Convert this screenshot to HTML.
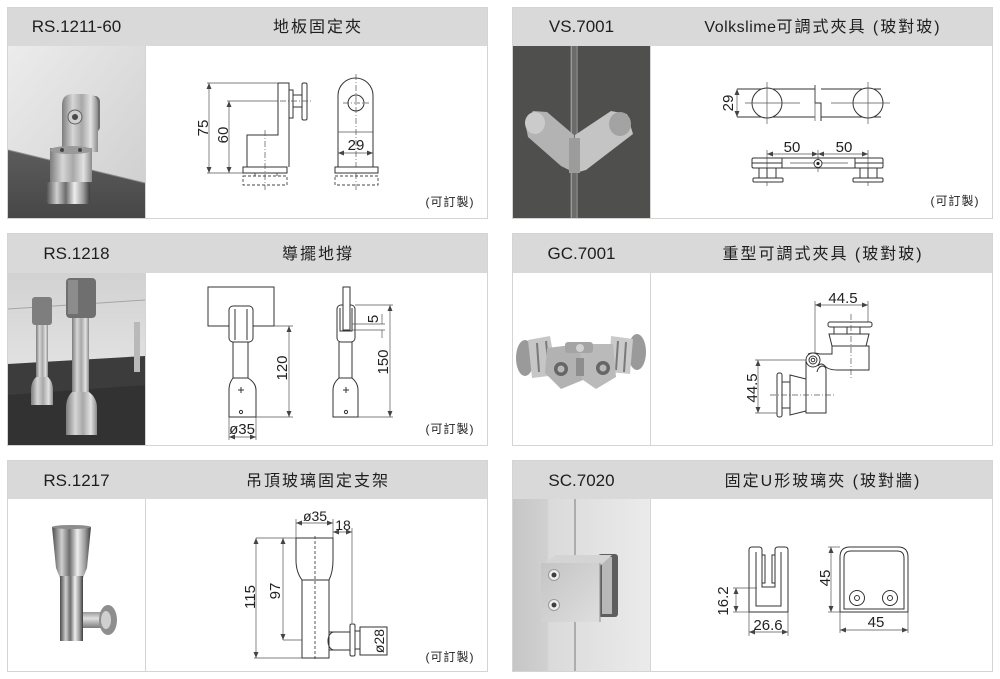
<!DOCTYPE html>
<html><head><meta charset="utf-8"><style>
html,body{margin:0;padding:0;background:#fff;}
svg{display:block}
.h{font-family:"Liberation Sans","Noto Sans CJK TC",sans-serif;font-size:17px;fill:#1e1e1e}
.t{font-family:"Liberation Sans","Noto Sans CJK TC",sans-serif;font-size:16px;fill:#1e1e1e;letter-spacing:2px}
.c{font-family:"Liberation Sans","Noto Sans CJK TC",sans-serif;font-size:12px;fill:#222;letter-spacing:1px}
.d{font-family:"Liberation Sans",sans-serif;font-size:15px;fill:#222}
.d2{font-family:"Liberation Sans",sans-serif;font-size:14px;fill:#222}
.s{fill:#fff;stroke:#333;stroke-width:1}
.n{fill:none;stroke:#333;stroke-width:1}
.m{fill:none;stroke:#555;stroke-width:0.7}
.a{fill:none;stroke:#555;stroke-width:0.7;marker-start:url(#ar);marker-end:url(#ar)}
.cl{fill:none;stroke:#555;stroke-width:0.7;stroke-dasharray:6 2 1 2}
.ds{fill:none;stroke:#444;stroke-width:0.9;stroke-dasharray:3 2}
</style></head><body>
<svg width="1000" height="679" viewBox="0 0 1000 679" xmlns="http://www.w3.org/2000/svg">
<defs>
<marker id="ar" viewBox="0 0 6 5" refX="6" refY="2.5" markerWidth="6" markerHeight="5" markerUnits="userSpaceOnUse" orient="auto-start-reverse"><path d="M0,0 L6,2.5 L0,5 z" fill="#444"/></marker>
<linearGradient id="silv" x1="0" y1="0" x2="1" y2="0"><stop offset="0" stop-color="#7d7d7d"/><stop offset="0.3" stop-color="#d6d6d6"/><stop offset="0.55" stop-color="#a8a8a8"/><stop offset="0.8" stop-color="#e2e2e2"/><stop offset="1" stop-color="#8a8a8a"/></linearGradient>
<linearGradient id="silv2" x1="0" y1="0" x2="1" y2="0"><stop offset="0" stop-color="#4a4a4a"/><stop offset="0.25" stop-color="#cfcfcf"/><stop offset="0.45" stop-color="#6d6d6d"/><stop offset="0.65" stop-color="#eeeeee"/><stop offset="0.85" stop-color="#9a9a9a"/><stop offset="1" stop-color="#3d3d3d"/></linearGradient>
<linearGradient id="silvv" x1="0" y1="0" x2="0" y2="1"><stop offset="0" stop-color="#9a9a9a"/><stop offset="0.4" stop-color="#e0e0e0"/><stop offset="1" stop-color="#7a7a7a"/></linearGradient>
<linearGradient id="wall1" x1="0" y1="0" x2="1" y2="1"><stop offset="0" stop-color="#ececec"/><stop offset="1" stop-color="#cdcdcd"/></linearGradient>
<linearGradient id="floor" x1="0" y1="0" x2="0" y2="1"><stop offset="0" stop-color="#5c5c5c"/><stop offset="1" stop-color="#474747"/></linearGradient>
<linearGradient id="wall3" x1="0" y1="0" x2="0" y2="1"><stop offset="0" stop-color="#d2d2d2"/><stop offset="0.5" stop-color="#e0e0e0"/><stop offset="1" stop-color="#e8e8e8"/></linearGradient>
<linearGradient id="wall6" x1="0" y1="0" x2="1" y2="0"><stop offset="0" stop-color="#c6c6c6"/><stop offset="0.25" stop-color="#d0d0d0"/><stop offset="0.26" stop-color="#dadada"/><stop offset="1" stop-color="#ebebeb"/></linearGradient>
<linearGradient id="plate6" x1="0" y1="0" x2="1" y2="1"><stop offset="0" stop-color="#c4c4c4"/><stop offset="1" stop-color="#dedede"/></linearGradient>
</defs>

<!-- ============ PANEL FRAMES ============ -->
<g fill="#fff" stroke="#d4d4d4" stroke-width="1">
<rect x="7.5" y="7.5" width="480" height="211"/>
<rect x="512.5" y="7.5" width="480" height="211"/>
<rect x="7.5" y="233.5" width="480" height="212"/>
<rect x="512.5" y="233.5" width="480" height="212"/>
<rect x="7.5" y="460.5" width="480" height="211"/>
<rect x="512.5" y="460.5" width="480" height="211"/>
</g>
<g fill="#d9d9d9">
<rect x="8" y="8" width="479" height="38"/>
<rect x="513" y="8" width="479" height="38"/>
<rect x="8" y="234" width="479" height="39"/>
<rect x="513" y="234" width="479" height="39"/>
<rect x="8" y="461" width="479" height="38"/>
<rect x="513" y="461" width="479" height="38"/>
</g>
<g stroke="#d4d4d4" stroke-width="1">
<line x1="145.5" y1="46" x2="145.5" y2="218"/>
<line x1="650.5" y1="46" x2="650.5" y2="218"/>
<line x1="145.5" y1="273" x2="145.5" y2="445"/>
<line x1="650.5" y1="273" x2="650.5" y2="445"/>
<line x1="145.5" y1="499" x2="145.5" y2="671"/>
<line x1="650.5" y1="499" x2="650.5" y2="671"/>
</g>

<!-- headers -->
<text class="h" x="76.5" y="32" text-anchor="middle">RS.1211-60</text>
<text class="t" x="318" y="32" text-anchor="middle">地板固定夾</text>
<text class="h" x="581.5" y="32" text-anchor="middle">VS.7001</text>
<text class="t" x="823" y="32" text-anchor="middle"><tspan letter-spacing="0.5">Volkslime</tspan>可調式夾具 (玻對玻)</text>
<text class="h" x="76.5" y="259" text-anchor="middle">RS.1218</text>
<text class="t" x="318" y="259" text-anchor="middle">導擺地撐</text>
<text class="h" x="581.5" y="259" text-anchor="middle">GC.7001</text>
<text class="t" x="823" y="259" text-anchor="middle">重型可調式夾具 (玻對玻)</text>
<text class="h" x="76.5" y="486" text-anchor="middle">RS.1217</text>
<text class="t" x="318" y="486" text-anchor="middle">吊頂玻璃固定支架</text>
<text class="h" x="581.5" y="486" text-anchor="middle">SC.7020</text>
<text class="t" x="823" y="486" text-anchor="middle">固定U形玻璃夾 (玻對牆)</text>

<!-- ============ PHOTO 1 ============ -->
<rect x="8" y="46" width="137" height="172" fill="url(#wall1)"/>
<polygon points="8,150 145,183 145,218 8,218" fill="url(#floor)"/>
<line x1="8" y1="150" x2="145" y2="183" stroke="#8a8a8a" stroke-width="1"/>
<rect x="88" y="96" width="12" height="36" rx="5" fill="#6e6e6e"/>
<path d="M62,152 V105 Q62,94 73,94 H87 Q98,94 98,105 V152 Z" fill="url(#silv)"/>
<circle cx="75" cy="117" r="7" fill="#cfcfcf" stroke="#5e5e5e"/>
<circle cx="75" cy="117" r="3" fill="#4a4a4a"/>
<rect x="50" y="148" width="42" height="34" fill="url(#silv)"/>
<ellipse cx="71" cy="150" rx="21" ry="4" fill="#9a9a9a"/>
<circle cx="62" cy="150" r="2" fill="#444"/><circle cx="80" cy="150" r="2" fill="#444"/>
<rect x="46" y="182" width="44" height="22" rx="4" fill="url(#silv2)"/>

<!-- ============ PHOTO 2 ============ -->
<rect x="513" y="46" width="137" height="172" fill="#4f4f4d"/>
<rect x="570" y="46" width="8" height="172" fill="#6c6c6a"/>
<line x1="571.5" y1="46" x2="571.5" y2="218" stroke="#9a9a98" stroke-width="1"/>
<line x1="577" y1="46" x2="577" y2="218" stroke="#8a8a88" stroke-width="1"/>
<polygon points="525,122 533,111 547,112 574,135 575,173 561,166 528,137" fill="#b3b3b3"/>
<ellipse cx="535" cy="123" rx="10" ry="11" fill="#cbcbcb"/>
<polygon points="575,135 611,111 627,114 633,134 586,170 575,173" fill="#c4c4c4"/>
<ellipse cx="620" cy="124" rx="11" ry="12" fill="#a3a3a3"/>
<rect x="569" y="138" width="11" height="35" fill="#9c9c9c"/>

<!-- ============ PHOTO 3 ============ -->
<rect x="8" y="273" width="137" height="172" fill="url(#wall3)"/>
<polygon points="8,364 145,356 145,445 8,445" fill="#3c3c3c"/>
<polygon points="8,395 145,385 145,445 8,445" fill="#323232"/>
<line x1="8" y1="309" x2="145" y2="300" stroke="#a5a5a5" stroke-width="1"/>
<rect x="134" y="322" width="6" height="50" fill="#b9b9b9"/>
<rect x="32" y="297" width="20" height="28" rx="3" fill="#7e7e7e"/>
<rect x="36" y="325" width="12" height="52" fill="url(#silv)"/>
<path d="M36,377 Q31,382 31,390 V405 H53 V390 Q53,382 48,377 Z" fill="url(#silv)"/>
<rect x="66" y="278" width="30" height="40" rx="4" fill="#6f6f6f"/>
<rect x="68" y="280" width="10" height="34" fill="#8c8c8c"/>
<rect x="72" y="318" width="17" height="74" fill="url(#silv)"/>
<path d="M72,392 Q66,398 66,408 V435 H97 V408 Q97,398 89,392 Z" fill="url(#silv)"/>

<!-- ============ PHOTO 4 ============ -->
<ellipse cx="525" cy="358" rx="9" ry="18" fill="#9a9a9a"/>
<polygon points="528,340 550,336 557,375 532,378" fill="#c6c6c6"/>
<line x1="537" y1="343" x2="539" y2="372" stroke="#7a7a7a" stroke-width="2"/>
<line x1="546" y1="341" x2="549" y2="371" stroke="#7a7a7a" stroke-width="2"/>
<polygon points="547,348 580,344 583,380 561,389 545,373" fill="#b2b2b2"/>
<ellipse cx="561" cy="369" rx="7" ry="7" fill="#666"/><ellipse cx="561" cy="369" rx="3.5" ry="3.5" fill="#b8b8b8"/>
<ellipse cx="637" cy="352" rx="9" ry="18" fill="#9a9a9a"/>
<polygon points="611,336 633,339 630,374 609,372" fill="#cacaca"/>
<line x1="618" y1="341" x2="616" y2="370" stroke="#7a7a7a" stroke-width="2"/>
<line x1="626" y1="342" x2="624" y2="372" stroke="#7a7a7a" stroke-width="2"/>
<polygon points="580,344 613,344 616,377 596,389 583,380" fill="#bababa"/>
<ellipse cx="603" cy="368" rx="7" ry="7" fill="#666"/><ellipse cx="603" cy="368" rx="3.5" ry="3.5" fill="#b8b8b8"/>
<rect x="565" y="342" width="28" height="11" rx="3" fill="#a4a4a4"/>
<circle cx="580" cy="348" r="4" fill="#d2d2d2"/>
<rect x="576" y="358" width="8" height="18" fill="#8e8e8e"/>

<!-- ============ PHOTO 5 ============ -->
<path d="M52,527 H91 L87,568 L83,578 H60 L56,568 Z" fill="url(#silv2)"/>
<ellipse cx="71.5" cy="527" rx="19.5" ry="2" fill="#8d8d8d"/>
<rect x="60" y="576" width="23" height="65" fill="url(#silv2)"/>
<rect x="83" y="612" width="18" height="16" fill="url(#silvv)"/>
<ellipse cx="108" cy="620" rx="9" ry="15" fill="#8e8e8e"/>
<ellipse cx="106" cy="620" rx="5" ry="9" fill="#cfcfcf"/>

<!-- ============ PHOTO 6 ============ -->
<rect x="513" y="499" width="137" height="172" fill="url(#wall6)"/>
<line x1="575" y1="499" x2="575" y2="671" stroke="#8c8c8c" stroke-width="1.2"/>
<rect x="598" y="554" width="20" height="63" rx="3" fill="#5e5e5e"/>
<rect x="602" y="557" width="10" height="57" fill="#b8b8b8"/>
<polygon points="541,566 556,555 612,555 600,566" fill="#d4d4d4"/>
<rect x="541" y="563" width="59" height="59" rx="2" fill="url(#plate6)"/>
<line x1="600" y1="563" x2="600" y2="622" stroke="#8d8d8d"/>
<circle cx="554" cy="575" r="5.5" fill="#ededed" stroke="#9a9a9a"/><circle cx="554" cy="575" r="2.5" fill="#3e3e3e"/>
<circle cx="554" cy="605" r="5.5" fill="#ededed" stroke="#9a9a9a"/><circle cx="554" cy="605" r="2.5" fill="#3e3e3e"/>

<!-- ============ DIAGRAM 1: RS.1211-60 ============ -->
<line class="m" x1="207" y1="83" x2="278" y2="83"/>
<line class="m" x1="227" y1="101" x2="278" y2="101"/>
<line class="m" x1="207" y1="173" x2="243" y2="173"/>
<line class="a" x1="209" y1="83" x2="209" y2="173"/>
<line class="a" x1="229" y1="101" x2="229" y2="173"/>
<text class="d" transform="translate(208,128) rotate(-90)" text-anchor="middle">75</text>
<text class="d" transform="translate(228,135) rotate(-90)" text-anchor="middle">60</text>
<path class="n" d="M278,83 H289 V167 M278,83 V135 H247 V167"/>
<rect class="s" x="243" y="167" width="44" height="6"/>
<rect class="ds" x="243" y="176" width="44" height="9"/>
<line class="ds" x1="255" y1="173" x2="255" y2="176"/><line class="ds" x1="277" y1="173" x2="277" y2="176"/>
<line class="cl" x1="265" y1="130" x2="265" y2="190"/>
<rect class="s" x="289" y="90" width="4" height="28"/>
<rect class="s" x="293" y="95" width="9" height="12"/>
<rect class="s" x="302" y="83" width="5" height="37" rx="1.5"/>
<line class="cl" x1="280" y1="101" x2="313" y2="101"/>
<!-- front -->
<path class="n" d="M338,167 V95.5 A17.5,17.5 0 0 1 373,95.5 V167"/>
<circle class="n" cx="356" cy="103" r="8"/>
<line class="cl" x1="356" y1="74" x2="356" y2="191"/>
<line class="cl" x1="343" y1="103" x2="369" y2="103"/>
<line class="m" x1="338" y1="132" x2="373" y2="132"/>
<line class="a" x1="338" y1="153" x2="373" y2="153"/>
<text class="d" x="356" y="150" text-anchor="middle">29</text>
<rect class="s" x="335" y="167" width="43" height="6"/>
<rect class="ds" x="335" y="176" width="43" height="9"/>
<text class="c" x="450" y="206" text-anchor="middle">(可訂製)</text>

<!-- ============ DIAGRAM 2: VS.7001 ============ -->
<line class="n" x1="737" y1="89" x2="815" y2="89"/>
<line class="n" x1="821" y1="89" x2="881" y2="89"/>
<line class="n" x1="737" y1="117" x2="815" y2="117"/>
<line class="n" x1="821" y1="117" x2="881" y2="117"/>
<path class="n" d="M815,85 V103 H821 V121"/>
<line class="m" x1="815" y1="85" x2="815" y2="121"/>
<line class="a" x1="737" y1="89" x2="737" y2="117"/>
<text class="d" transform="translate(733,103) rotate(-90)" text-anchor="middle">29</text>
<circle class="s" cx="767" cy="103" r="15"/>
<circle class="s" cx="868" cy="103" r="15"/>
<line class="m" x1="745" y1="103" x2="800" y2="103"/>
<line class="m" x1="831" y1="103" x2="890" y2="103"/>
<line class="m" x1="767" y1="82" x2="767" y2="124"/>
<line class="m" x1="868" y1="82" x2="868" y2="124"/>
<!-- side -->
<line class="m" x1="767" y1="150" x2="767" y2="186"/>
<line class="m" x1="818" y1="150" x2="818" y2="172"/>
<line class="m" x1="868" y1="150" x2="868" y2="186"/>
<line class="a" x1="767" y1="154" x2="818" y2="154"/>
<line class="a" x1="818" y1="154" x2="868" y2="154"/>
<text class="d" x="792" y="152" text-anchor="middle">50</text>
<text class="d" x="844" y="152" text-anchor="middle">50</text>
<rect class="n" x="752" y="158" width="131" height="10" rx="1.5"/>
<path class="n" d="M782,158 V168 M855,158 V168 M752,163 H782 M855,163 H883"/>
<line class="m" x1="790" y1="163" x2="848" y2="163"/>
<circle class="s" cx="818" cy="163.5" r="4"/><circle cx="818" cy="163.5" r="1.6" fill="#222"/>
<rect class="s" x="759" y="168" width="17" height="10"/>
<line class="n" x1="767" y1="168" x2="767" y2="178"/>
<rect class="s" x="753" y="178" width="30" height="4" rx="1"/>
<rect class="s" x="860" y="168" width="17" height="10"/>
<line class="n" x1="868" y1="168" x2="868" y2="178"/>
<rect class="s" x="853" y="178" width="30" height="4" rx="1"/>
<text class="c" x="955" y="205" text-anchor="middle">(可訂製)</text>

<!-- ============ DIAGRAM 3: RS.1218 ============ -->
<rect class="n" x="208" y="287" width="66" height="39"/>
<rect class="s" x="229" y="306" width="24" height="36" rx="4"/>
<line class="n" x1="235" y1="309" x2="235" y2="340"/>
<line class="n" x1="247" y1="309" x2="247" y2="340"/>
<path class="n" d="M233,342 V378 Q229,383 229,390 V417 H256 V390 Q256,383 248,378 V342"/>
<line class="n" x1="233" y1="378" x2="248" y2="378"/>
<path class="n" d="M238,390 H244 M241,387 V393"/>
<circle class="n" cx="241" cy="412" r="1.6"/>
<line class="m" x1="274" y1="326" x2="293" y2="326"/>
<line class="m" x1="256" y1="417" x2="293" y2="417"/>
<line class="a" x1="289" y1="326" x2="289" y2="417"/>
<text class="d" transform="translate(287,368) rotate(-90)" text-anchor="middle">120</text>
<line class="m" x1="229" y1="417" x2="229" y2="440"/>
<line class="m" x1="256" y1="417" x2="256" y2="440"/>
<line class="a" x1="229" y1="437" x2="256" y2="437"/>
<text class="d" x="242" y="434" text-anchor="middle">ø35</text>
<!-- right -->
<rect class="s" x="337" y="305" width="18" height="37" rx="4"/>
<rect class="s" x="343" y="287" width="7" height="43"/>
<path class="n" d="M340,308 V331 H352 V308" stroke-width="1.4"/>
<path class="n" d="M339,342 V378 Q333,383 333,390 V417 H358 V390 Q358,383 352,378 V342"/>
<line class="n" x1="339" y1="378" x2="352" y2="378"/>
<path class="n" d="M343,390 H349 M346,387 V393"/>
<circle class="n" cx="346" cy="412" r="1.6"/>
<line class="m" x1="355" y1="305" x2="393" y2="305"/>
<line class="m" x1="352" y1="324" x2="385" y2="324"/>
<line class="m" x1="352" y1="330" x2="385" y2="330"/>
<line class="m" x1="382" y1="314" x2="382" y2="324"/>
<line class="m" x1="382" y1="330" x2="382" y2="338"/>
<text class="d" transform="translate(378,319) rotate(-90)" text-anchor="middle">5</text>
<line class="m" x1="358" y1="417" x2="393" y2="417"/>
<line class="a" x1="390" y1="305" x2="390" y2="417"/>
<text class="d" transform="translate(388,362) rotate(-90)" text-anchor="middle">150</text>
<text class="c" x="450" y="433" text-anchor="middle">(可訂製)</text>

<!-- ============ DIAGRAM 4: GC.7001 ============ -->
<text class="d" x="843" y="303" text-anchor="middle">44.5</text>
<line class="a" x1="815" y1="305" x2="868" y2="305"/>
<line class="m" x1="815" y1="301" x2="815" y2="360"/>
<line class="m" x1="868" y1="301" x2="868" y2="323"/>
<rect class="s" x="828" y="322" width="44" height="5" rx="2"/>
<rect class="s" x="834" y="327" width="26" height="7"/>
<line class="n" x1="847" y1="327" x2="847" y2="334"/>
<polygon class="s" points="829,334 869,334 866,346 832,346"/>
<path class="s" d="M808,354 Q813,352 820,354 H832 V346 H869 V370 H838 Q828,370 825,366 Q821,362 818,366"/>
<line class="cl" x1="851" y1="314" x2="851" y2="378"/>
<path class="s" d="M806,361 V413 H826 V370 Q826,366 822,366 Q818,367 817,372"/>
<circle class="s" cx="813" cy="360" r="7"/>
<circle class="n" cx="813" cy="360" r="4"/>
<circle class="n" cx="813" cy="360" r="1.8"/>
<polygon class="s" points="790,375 806,379 806,411 790,415"/>
<rect class="s" x="782" y="382" width="8" height="26"/>
<rect class="s" x="777" y="373" width="5" height="44" rx="2"/>
<line class="cl" x1="770" y1="395" x2="834" y2="395"/>
<line class="m" x1="755" y1="360" x2="806" y2="360"/>
<line class="m" x1="755" y1="413" x2="777" y2="413"/>
<line class="a" x1="758" y1="360" x2="758" y2="413"/>
<text class="d" transform="translate(757,388) rotate(-90)" text-anchor="middle">44.5</text>

<!-- ============ DIAGRAM 5: RS.1217 ============ -->
<text class="d2" x="315" y="521" text-anchor="middle">ø35</text>
<line class="a" x1="296" y1="523" x2="333" y2="523"/>
<text class="d2" x="343" y="530" text-anchor="middle">18</text>
<line class="a" x1="333" y1="532" x2="352" y2="532"/>
<line class="m" x1="296" y1="519" x2="296" y2="538"/>
<line class="m" x1="333" y1="519" x2="333" y2="540"/>
<line class="m" x1="352" y1="528" x2="352" y2="623"/>
<path class="n" d="M296,538 H333 V560 Q333,572 329,580 V658 H302 V580 Q296,572 296,560 Z"/>
<line class="n" x1="302" y1="580" x2="329" y2="580"/>
<line class="ds" x1="315" y1="536" x2="315" y2="660"/>
<line class="m" x1="256" y1="538" x2="296" y2="538"/>
<line class="m" x1="283" y1="640" x2="302" y2="640"/>
<line class="m" x1="254" y1="658" x2="302" y2="658"/>
<line class="a" x1="256" y1="538" x2="256" y2="658"/>
<line class="a" x1="283" y1="538" x2="283" y2="640"/>
<text class="d" transform="translate(255,597) rotate(-90)" text-anchor="middle">115</text>
<text class="d" transform="translate(280,591) rotate(-90)" text-anchor="middle">97</text>
<path class="n" d="M329,632 H350 M329,650 H350 M334,632 A6,9 0 0 0 334,650"/>
<rect class="s" x="350" y="624" width="5" height="32" rx="1.5"/>
<rect class="s" x="355" y="631" width="5" height="18"/>
<rect class="s" x="360" y="627" width="27" height="28"/>
<text class="d2" transform="translate(384,641) rotate(-90)" text-anchor="middle">ø28</text>
<text class="c" x="450" y="661" text-anchor="middle">(可訂製)</text>

<!-- ============ DIAGRAM 6: SC.7020 ============ -->
<path class="n" d="M749,612 V550 Q749,547 752,547 H759 Q762,547 762,550 V587 H775 V550 Q775,547 778,547 H785 Q788,547 788,550 V612 Z"/>
<path class="n" d="M756,552 V606 H781 V552"/>
<rect class="n" x="762" y="555" width="3" height="28"/>
<rect class="n" x="772" y="555" width="3" height="28"/>
<line class="m" x1="733" y1="588" x2="757" y2="588"/>
<line class="m" x1="733" y1="612" x2="749" y2="612"/>
<line class="a" x1="736" y1="588" x2="736" y2="612"/>
<text class="d" transform="translate(728,601) rotate(-90)" text-anchor="middle">16.2</text>
<line class="m" x1="749" y1="612" x2="749" y2="636"/>
<line class="m" x1="788" y1="612" x2="788" y2="636"/>
<line class="a" x1="749" y1="632" x2="788" y2="632"/>
<text class="d" x="768" y="630" text-anchor="middle">26.6</text>
<!-- front -->
<path class="n" d="M840,612 V557 Q840,547 850,547 H898 Q908,547 908,557 V612 Z"/>
<path class="n" d="M844,609 V558 Q844,551 851,551 H897 Q904,551 904,558 V609 Z"/>
<circle class="n" cx="857" cy="598" r="7.5"/><circle class="n" cx="857" cy="598" r="2.5"/>
<circle class="n" cx="890" cy="598" r="7.5"/><circle class="n" cx="890" cy="598" r="2.5"/>
<line class="m" x1="828" y1="547" x2="840" y2="547"/>
<line class="m" x1="828" y1="612" x2="840" y2="612"/>
<line class="a" x1="831" y1="547" x2="831" y2="612"/>
<text class="d" transform="translate(830,578) rotate(-90)" text-anchor="middle">45</text>
<line class="m" x1="840" y1="612" x2="840" y2="633"/>
<line class="m" x1="908" y1="612" x2="908" y2="633"/>
<line class="a" x1="840" y1="630" x2="908" y2="630"/>
<text class="d" x="876" y="627" text-anchor="middle">45</text>
</svg>
</body></html>
